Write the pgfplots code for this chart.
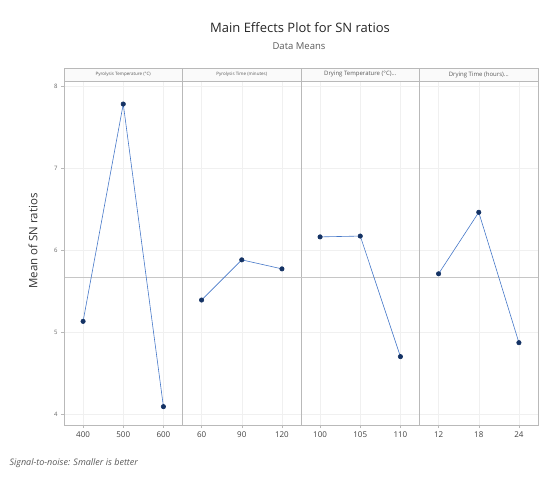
\documentclass[border=0pt]{standalone}
\usepackage{pgfplots}
\pgfplotsset{compat=1.18}
\usepackage{fontspec}
\setmainfont{Open Sans}
\definecolor{lineblue}{RGB}{70,120,200}
\definecolor{markblue}{RGB}{20,50,100}
\definecolor{framegray}{RGB}{185,185,185}
\definecolor{txtgray}{RGB}{90,90,90}
\pgfplotsset{
  panel/.style={
    anchor=south west, width=118.5pt, height=344pt, scale only axis,
    xmin=-0.475, xmax=2.475, ymin=3.866, ymax=8.061,
    xtick={0,1,2}, ytick={4,5,6,7,8},
    axis line style={framegray}, tick style={framegray, thin},
    tick align=outside, major tick length=3pt,
    xtick pos=bottom, ytick pos=left,
    grid=major, grid style={gray!12},
    ticklabel style={font=\fontsize{8}{9}\selectfont, text=black!75},
    /pgf/number format/assume math mode=true,
    clip=false,
  },
  series/.style={color=lineblue, line width=0.6pt, mark=*, mark size=2.2pt,
    mark options={fill=markblue, draw=markblue}},
  meanline/.style={color=gray!45, line width=0.5pt, forget plot},
}
\begin{document}
\begin{tikzpicture}
\path[use as bounding box] (0,0) rectangle (553pt,477pt);
% panel 1
\begin{axis}[panel, at={(64pt,52pt)}, xticklabels={400,500,600},
  yticklabel style={font=\fontsize{6}{7}\selectfont, text=black!60}]
\addplot[meanline] coordinates {(-0.475,5.67) (2.475,5.67)};
\addplot[series] coordinates {(0,5.13) (1,7.78) (2,4.09)};
\end{axis}
% panel 2
\begin{axis}[panel, at={(182.5pt,52pt)}, xticklabels={60,90,120}, yticklabels={}, ytick style={draw=none}]
\addplot[meanline] coordinates {(-0.475,5.67) (2.475,5.67)};
\addplot[series] coordinates {(0,5.39) (1,5.88) (2,5.77)};
\end{axis}
% panel 3
\begin{axis}[panel, at={(301pt,52pt)}, xticklabels={100,105,110}, yticklabels={}, ytick style={draw=none}]
\addplot[meanline] coordinates {(-0.475,5.67) (2.475,5.67)};
\addplot[series] coordinates {(0,6.16) (1,6.17) (2,4.70)};
\end{axis}
% panel 4
\begin{axis}[panel, at={(419.5pt,52pt)}, xticklabels={12,18,24}, yticklabels={}, ytick style={draw=none}]
\addplot[meanline] coordinates {(-0.475,5.67) (2.475,5.67)};
\addplot[series] coordinates {(0,5.71) (1,6.46) (2,4.87)};
\end{axis}
% strips
\foreach \x/\t/\s in {64/{Pyrolysis Temperature (°C)}/4.5, 182.5/{Pyrolysis Time (minutes)}/4.5, 301/{Drying Temperature (°C)...}/6, 419.5/{Drying Time (hours)...}/6}{
  \draw[framegray, fill=gray!4] (\x pt,396pt) rectangle ++(118.5pt,13pt);
  \node[font=\fontsize{\s}{\s}\selectfont, text=black!65] at ({\x pt+59.25pt},402.5pt) {\t};
}
\draw[framegray] (64pt,52pt) rectangle (538pt,409pt);
% titles
\node[font=\fontsize{13}{15}\selectfont, text=black!85] at (300pt,449pt) {Main Effects Plot for SN ratios};
\node[font=\fontsize{9.5}{11}\selectfont, text=txtgray] at (299pt,431pt) {Data Means};
\node[rotate=90, font=\fontsize{11.5}{13}\selectfont, text=black!80] at (33pt,236pt) {Mean of SN ratios};
\node[anchor=west, font=\itshape\fontsize{9}{11}\selectfont, text=txtgray] at (6pt,14pt) {Signal-to-noise: Smaller is better};
\end{tikzpicture}
\end{document}
